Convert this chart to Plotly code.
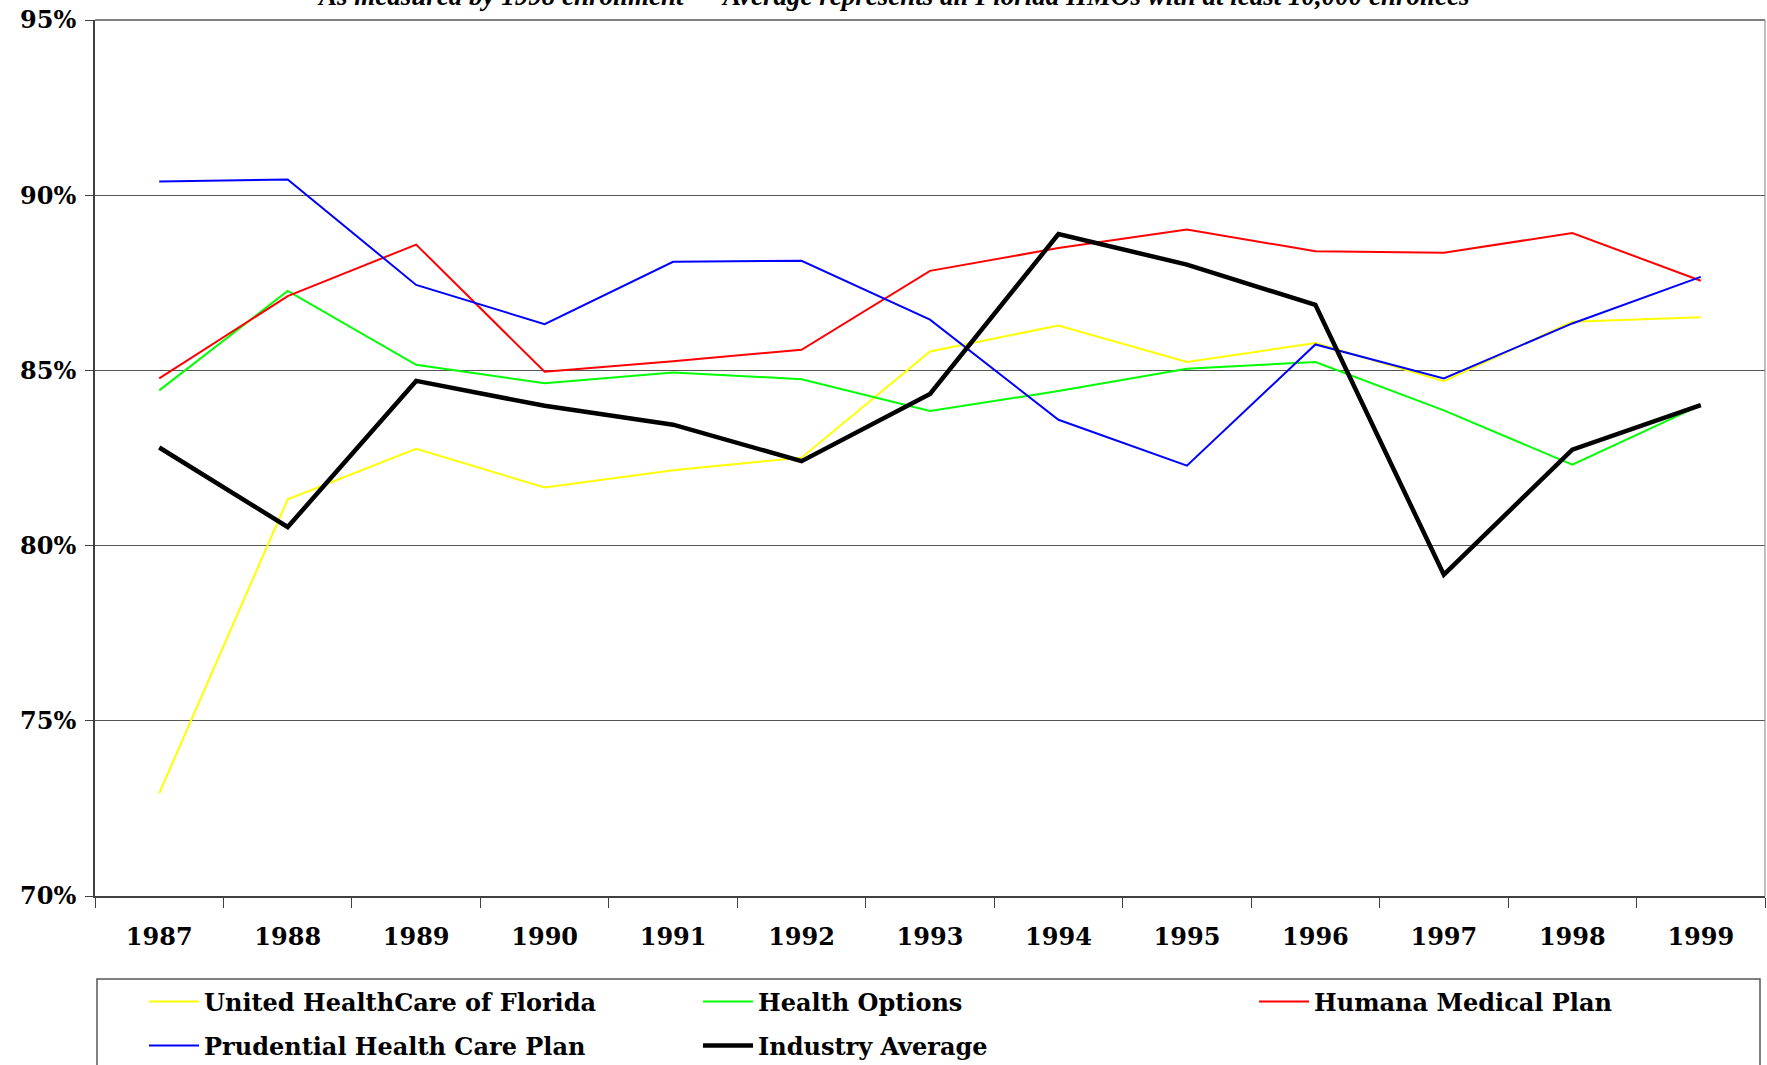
import plotly.graph_objects as go

years = ["1987", "1988", "1989", "1990", "1991", "1992", "1993",
         "1994", "1995", "1996", "1997", "1998", "1999"]

united = [72.93, 81.32, 82.76, 81.66, 82.15, 82.51, 85.54, 86.28, 85.24, 85.78, 84.69, 86.39, 86.52]
health_options = [84.43, 87.27, 85.16, 84.63, 84.94, 84.75, 83.84, 84.41, 85.05, 85.24, 83.86, 82.31, 84.01]
humana = [84.77, 87.12, 88.59, 84.96, 85.26, 85.59, 87.84, 88.49, 89.02, 88.40, 88.36, 88.92, 87.56]
prudential = [90.39, 90.45, 87.44, 86.32, 88.10, 88.13, 86.45, 83.59, 82.28, 85.74, 84.77, 86.34, 87.67]
industry_avg = [82.80, 80.53, 84.70, 83.99, 83.45, 82.41, 84.33, 88.89, 88.02, 86.87, 79.17, 82.74, 84.01]

series_names = ["United HealthCare of Florida", "Health Options", "Humana Medical Plan",
                "Prudential Health Care Plan", "Industry Average"]
series_values = [united, health_options, humana, prudential, industry_avg]
series_colors = ["#FFFF00", "#00FF00", "#FF0000", "#0000FF", "#000000"]
series_widths = [2, 2, 2, 2, 4.5]

y_ticks = [70, 75, 80, 85, 90, 95]
y_tick_labels = ["70%", "75%", "80%", "85%", "90%", "95%"]

subtitle = "As measured by 1998 enrollment \u2014 Average represents all Florida HMOs with at least 10,000 enrollees"

FONT = "DejaVu Serif"
TITLE_FONT = "Liberation Serif"

W, H = 1767, 1065
L, R, T, B = 95, 2, 20, 169
plot_w = W - L - R
plot_h = H - T - B

# legend slot positions (page pixels): column line-start x, row centre y
legend_pos = [(150, 1002), (704, 1002), (1260, 1002), (150, 1046), (704, 1046)]
LINE_INSET = 6

fig = go.Figure()
legend_cfg = {}
for i, (name, vals, col, w) in enumerate(zip(series_names, series_values, series_colors, series_widths)):
    lname = "legend" if i == 0 else f"legend{i + 1}"
    fig.add_trace(go.Scatter(x=years, y=vals, mode="lines", name=name,
                             line=dict(color=col, width=w), legend=lname))
    px, py = legend_pos[i]
    legend_cfg[lname] = dict(
        xref="container", yref="container",
        x=(px - LINE_INSET) / W, xanchor="left",
        y=1 - py / H, yanchor="middle",
        orientation="h",
        font=dict(family=FONT, size=24, color="black", weight="bold"),
        bgcolor="rgba(0,0,0,0)", borderwidth=0,
        itemwidth=50,
    )

fig.update_layout(
    width=W, height=H,
    margin=dict(l=L, r=R, t=T, b=B, pad=0, autoexpand=False),
    paper_bgcolor="white", plot_bgcolor="white",
    font=dict(family=FONT, color="black"),
    showlegend=True,
    xaxis=dict(
        type="category",
        range=[-0.5, 12.5],
        automargin=False,
        showgrid=False,
        showline=True, linecolor="#404040", linewidth=2,
        ticks="outside", tickson="boundaries", ticklen=10, tickcolor="#404040", tickwidth=1,
        tickfont=dict(family=FONT, size=24, color="black", weight="bold"),
        ticklabelstandoff=18,
        ticklabeloverflow="allow",
    ),
    yaxis=dict(
        range=[70, 95],
        automargin=False,
        tickvals=y_ticks, ticktext=y_tick_labels,
        showgrid=True, gridcolor="#555555", gridwidth=1,
        showline=True, linecolor="#404040", linewidth=2,
        ticks="outside", ticklen=8, tickcolor="#404040",
        tickfont=dict(family=FONT, size=24, color="black", weight="bold"),
        ticklabelstandoff=4,
        ticklabeloverflow="allow",
        zeroline=False,
    ),
    **legend_cfg,
)

# plot-area top and right border
fig.add_shape(type="line", xref="paper", yref="paper", x0=0, x1=1, y0=1, y1=1,
              line=dict(color="#808080", width=2))
fig.add_shape(type="line", xref="paper", yref="paper", x0=1, x1=1, y0=0, y1=1,
              line=dict(color="#808080", width=1))

# legend box (page coordinates converted to paper)
box_left, box_right, box_top, box_bottom = 97, 1760, 979, 1085
fig.add_shape(type="rect", xref="paper", yref="paper",
              x0=(box_left - L) / plot_w, x1=(box_right - L) / plot_w,
              y0=-(box_bottom - (H - B)) / plot_h, y1=-(box_top - (H - B)) / plot_h,
              line=dict(color="#555555", width=1.5), fillcolor="rgba(0,0,0,0)")

fig.add_annotation(text="<b><i>" + subtitle + "</i></b>", xref="paper", yref="paper",
                   x=(893 - L) / plot_w, y=1 + (T + 4) / plot_h,
                   xanchor="center", yanchor="middle", showarrow=False,
                   font=dict(family=TITLE_FONT, size=27, color="black"))

fig.write_html("out.html", config={"displayModeBar": False},
               post_script="document.body.style.margin='0';")
